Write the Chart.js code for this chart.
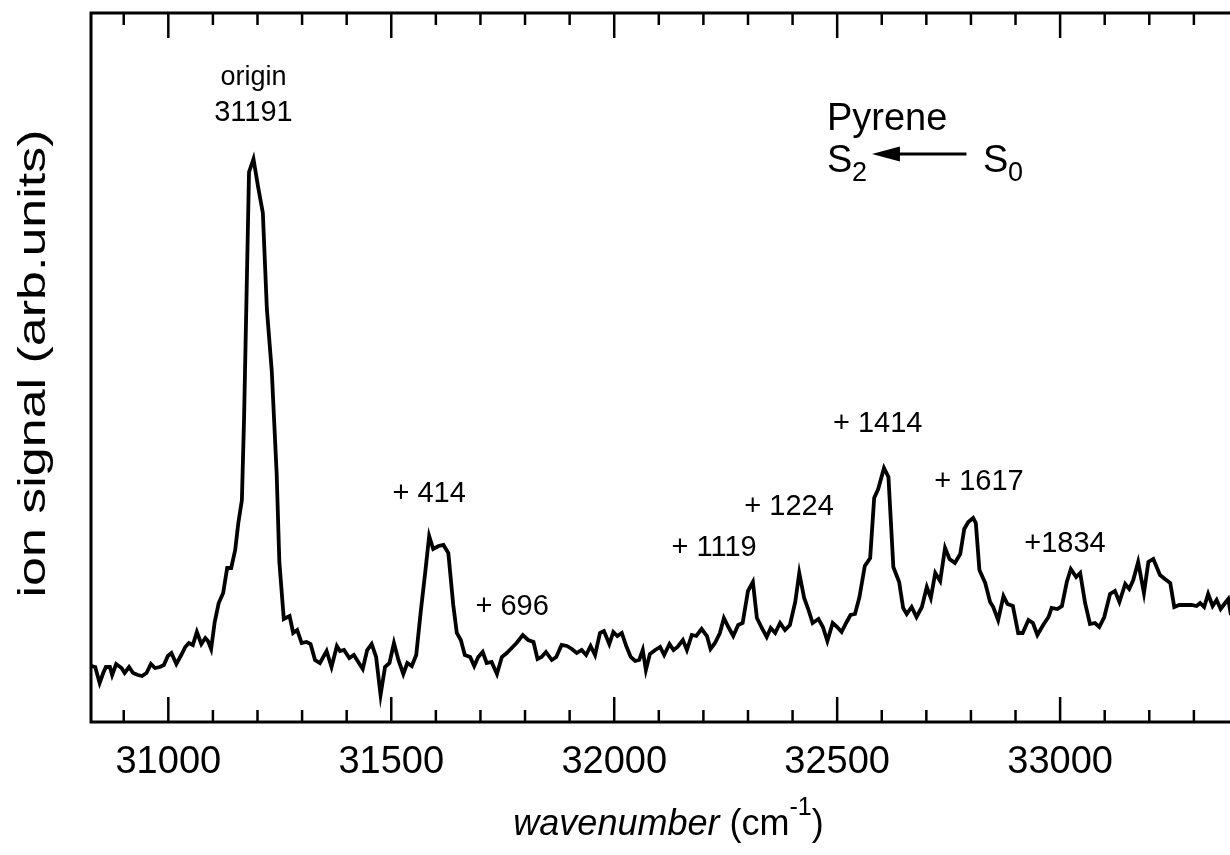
<!DOCTYPE html>
<html lang="en">
<head>
  <meta charset="UTF-8" />
  <title>Pyrene S2 &lt;- S0 spectrum</title>
  <script src="https://cdn.jsdelivr.net/npm/chart.js"></script>
  <style>
    body { margin: 0; background: #fff; }
    #wrap { width: 1230px; height: 855px; }
  </style>
</head>
<body>
  <div id="wrap"><canvas id="spectrum" width="1230" height="855"></canvas></div>

  <script>
    // spectrum: wavenumber (cm-1) and ion signal (arb. units)
    const wavenumber = [
      30828, 30836, 30846, 30854, 30860, 30869, 30874, 30883, 30895, 30902,
      30912, 30921, 30932, 30941, 30951, 30961, 30970, 30981, 30990, 30999,
      31007, 31018, 31029, 31038, 31046, 31055, 31064, 31074, 31083, 31089,
      31096, 31104, 31113, 31123, 31132, 31141, 31150, 31157, 31165, 31170,
      31176, 31181, 31191, 31201, 31212, 31221, 31232, 31243, 31249, 31259,
      31272, 31280, 31289, 31299, 31310, 31319, 31329, 31340, 31355, 31366,
      31378, 31385, 31394, 31406, 31416, 31426, 31436, 31446, 31456, 31466,
      31476, 31486, 31496, 31506, 31516, 31527, 31536, 31546, 31556, 31566,
      31576, 31585, 31594, 31606, 31617, 31628, 31639, 31647, 31656, 31665,
      31677, 31686, 31695, 31705, 31714, 31725, 31737, 31748, 31759, 31770,
      31781, 31795, 31807, 31819, 31828, 31837, 31847, 31860, 31870, 31882,
      31894, 31905, 31916, 31927, 31937, 31947, 31957, 31968, 31977, 31989,
      31998, 32007, 32017, 32027, 32037, 32047, 32056, 32064, 32071, 32080,
      32092, 32103, 32112, 32124, 32133, 32142, 32154, 32163, 32174, 32184,
      32196, 32208, 32216, 32226, 32237, 32246, 32256, 32267, 32278, 32288,
      32300, 32311, 32320, 32331, 32342, 32351, 32361, 32372, 32383, 32394,
      32406, 32415, 32426, 32435, 32445, 32458, 32468, 32478, 32490, 32500,
      32510, 32520, 32530, 32540, 32550, 32562, 32574, 32583, 32592, 32605,
      32615, 32626, 32639, 32648, 32656, 32667, 32678, 32690, 32701, 32710,
      32720, 32731, 32742, 32752, 32764, 32776, 32785, 32794, 32805, 32811,
      32819, 32832, 32843, 32850, 32861, 32873, 32882, 32894, 32906, 32916,
      32929, 32939, 32949, 32962, 32974, 32981, 32994, 33004, 33015, 33024,
      33036, 33045, 33056, 33067, 33078, 33088, 33099, 33112, 33123, 33133,
      33146, 33155, 33164, 33175, 33188, 33198, 33209, 33224, 33235, 33247,
      33256, 33267, 33280, 33295, 33306, 33314, 33323, 33332, 33342, 33351,
      33360, 33370, 33377, 33383
    ];
    const ionSignal = [
      56, 55, 39, 49, 55, 55, 47, 58, 54, 49,
      55, 49, 47, 46, 49, 58, 54, 55, 57, 66,
      69, 58, 67, 75, 79, 77, 90, 78, 84, 81,
      73, 100, 119, 129, 154, 154, 172, 199, 222, 306,
      439, 550, 563, 536, 509, 413, 351, 248, 160, 103,
      106, 89, 92, 79, 80, 78, 62, 59, 71, 55,
      76, 71, 72, 64, 67, 60, 53, 72, 78, 65,
      27, 55, 59, 79, 62, 48, 59, 56, 67, 110,
      149, 186, 173, 176, 177, 169, 117, 89, 82, 67,
      65, 56, 65, 70, 59, 60, 48, 65, 69, 74,
      79, 87, 82, 80, 63, 65, 70, 62, 65, 77,
      76, 73, 69, 72, 67, 76, 67, 89, 91, 78,
      90, 86, 89, 76, 65, 61, 62, 72, 52, 68,
      72, 75, 67, 78, 72, 75, 82, 72, 87, 86,
      93, 86, 73, 79, 89, 104, 95, 86, 97, 99,
      131, 140, 104, 94, 85, 94, 89, 99, 92, 97,
      120, 149, 124, 113, 99, 103, 95, 81, 99, 95,
      90, 99, 107, 108, 125, 156, 164, 224, 233, 254,
      245, 155, 140, 114, 108, 115, 105, 115, 135, 124,
      149, 141, 174, 163, 159, 168, 193, 200, 204, 199,
      152, 139, 120, 115, 102, 126, 118, 116, 89, 89,
      102, 99, 87, 97, 105, 114, 113, 116, 140, 153,
      145, 149, 119, 98, 99, 95, 105, 128, 131, 120,
      138, 133, 142, 160, 129, 160, 163, 147, 143, 139,
      115, 117, 117, 117, 116, 119, 115, 128, 116, 122,
      113, 119, 123, 107
    ];

    const xRange = [30826.6, 33381];
    const yRange = [0, 709];
    const majorTicks = [31000, 31500, 32000, 32500, 33000];
    const minorStep = 100;

    // band labels: text lines, wavenumber of the text centre, signal level of the text centre
    const bandText = [['origin', '31191'], ['+ 414'], ['+ 696'], ['+ 1119'], ['+ 1224'], ['+ 1414'], ['+ 1617'], ['+1834']];
    const bandTextAt = [31191, 31585, 31771, 32224, 32392, 32591, 32818, 33011];
    const bandTextLevel = [644, 228, 115, 174, 215, 298, 240, 178];

    const FONT = '"Liberation Sans", Arial, sans-serif';

    const decorations = {
      id: 'decorations',
      afterDraw(chart) {
        const { ctx, chartArea: a, scales: { x, y } } = chart;
        ctx.save();
        ctx.strokeStyle = '#000';
        ctx.fillStyle = '#000';

        // frame: left, top, bottom
        ctx.lineWidth = 3;
        ctx.beginPath();
        ctx.moveTo(a.right + 2, a.top);
        ctx.lineTo(a.left, a.top);
        ctx.lineTo(a.left, a.bottom);
        ctx.lineTo(a.right + 2, a.bottom);
        ctx.stroke();

        // inward ticks, bottom and top
        ctx.lineWidth = 2.5;
        ctx.beginPath();
        x.ticks.forEach(t => {
          const px = x.getPixelForValue(t.value);
          const len = majorTicks.includes(t.value) ? 25 : 12;
          ctx.moveTo(px, a.bottom); ctx.lineTo(px, a.bottom - len);
          ctx.moveTo(px, a.top); ctx.lineTo(px, a.top + len);
        });
        ctx.stroke();

        // band labels
        ctx.textAlign = 'center';
        ctx.textBaseline = 'middle';
        bandText.forEach((lines, i) => {
          const px = x.getPixelForValue(bandTextAt[i]);
          const py = y.getPixelForValue(bandTextLevel[i]);
          lines.forEach((s, k) => {
            ctx.font = (i === 0 && k === 0 ? '27px ' : '29px ') + FONT;
            ctx.fillText(s, px, py + k * 35);
          });
        });

        // Pyrene  S2 <---- S0
        const left = x.getPixelForValue(32477);
        ctx.textAlign = 'left';
        ctx.font = '38px ' + FONT;
        ctx.fillText('Pyrene', left, y.getPixelForValue(602));
        const sy = y.getPixelForValue(560);
        ctx.fillText('S', left, sy);
        ctx.font = '27px ' + FONT;
        ctx.fillText('2', left + 25, sy + 12);
        const s0 = x.getPixelForValue(32827);
        ctx.font = '38px ' + FONT;
        ctx.fillText('S', s0, sy);
        ctx.font = '27px ' + FONT;
        ctx.fillText('0', s0 + 25, sy + 12);
        // arrow
        const ay = y.getPixelForValue(568);
        const tip = x.getPixelForValue(32578);
        const tail = x.getPixelForValue(32790);
        ctx.lineWidth = 3;
        ctx.beginPath();
        ctx.moveTo(tail, ay); ctx.lineTo(tip + 20, ay);
        ctx.stroke();
        ctx.beginPath();
        ctx.moveTo(tip, ay);
        ctx.lineTo(tip + 28, ay - 7.5);
        ctx.lineTo(tip + 28, ay + 7.5);
        ctx.closePath();
        ctx.fill();

        // axis titles
        ctx.textBaseline = 'alphabetic';
        ctx.textAlign = 'left';
        const t1 = 'wavenumber', t2 = ' (cm', t3 = '-1', t4 = ')';
        ctx.font = 'italic 36px ' + FONT;
        const w1 = ctx.measureText(t1).width;
        ctx.font = '36px ' + FONT;
        const w2 = ctx.measureText(t2).width;
        const w4 = ctx.measureText(t4).width;
        ctx.font = '25px ' + FONT;
        const w3 = ctx.measureText(t3).width;
        let tx = (a.left + a.right) / 2 + 8 - (w1 + w2 + w3 + w4) / 2;
        const ty = 835;
        ctx.font = 'italic 36px ' + FONT;
        ctx.fillText(t1, tx, ty); tx += w1;
        ctx.font = '36px ' + FONT;
        ctx.fillText(t2, tx, ty); tx += w2;
        ctx.font = '25px ' + FONT;
        ctx.fillText(t3, tx, ty - 20); tx += w3;
        ctx.font = '36px ' + FONT;
        ctx.fillText(t4, tx, ty);

        // y title: the label in the figure is drawn elongated along its length
        const yTitle = 'ion signal (arb.units)';
        ctx.font = '38px ' + FONT;
        const stretch = 468 / ctx.measureText(yTitle).width;
        ctx.translate(45, (a.top + a.bottom) / 2 - 4);
        ctx.rotate(-Math.PI / 2);
        ctx.scale(stretch, 1);
        ctx.textAlign = 'center';
        ctx.fillText(yTitle, 0, 0);
        ctx.restore();
      }
    };

    new Chart(document.getElementById('spectrum'), {
      type: 'line',
      data: {
        datasets: [{
          data: wavenumber.map((w, i) => ({ x: w, y: ionSignal[i] })),
          borderColor: '#000',
          borderWidth: 3.8,
          pointRadius: 0,
          tension: 0,
          fill: false
        }]
      },
      options: {
        responsive: false,
        devicePixelRatio: 1,
        animation: false,
        layout: { padding: { top: 13, right: 0, left: 0, bottom: 0 } },
        plugins: { legend: { display: false }, tooltip: { enabled: false } },
        scales: {
          x: {
            type: 'linear',
            min: xRange[0],
            max: xRange[1],
            afterFit: s => { s.height = 133; },
            afterBuildTicks: s => {
              const ticks = [];
              for (let v = Math.ceil(xRange[0] / minorStep) * minorStep; v <= xRange[1]; v += minorStep) ticks.push({ value: v });
              s.ticks = ticks;
            },
            grid: { display: false, drawTicks: false },
            border: { display: false },
            ticks: {
              autoSkip: false,
              maxRotation: 0,
              padding: 18,
              color: '#000',
              font: { family: FONT, size: 38 },
              callback: v => majorTicks.includes(v) ? String(v) : ''
            }
          },
          y: {
            min: yRange[0],
            max: yRange[1],
            afterFit: s => { s.width = 91; },
            grid: { display: false, drawTicks: false },
            border: { display: false },
            ticks: { display: false }
          }
        }
      },
      plugins: [decorations]
    });
  </script>
</body>
</html>
